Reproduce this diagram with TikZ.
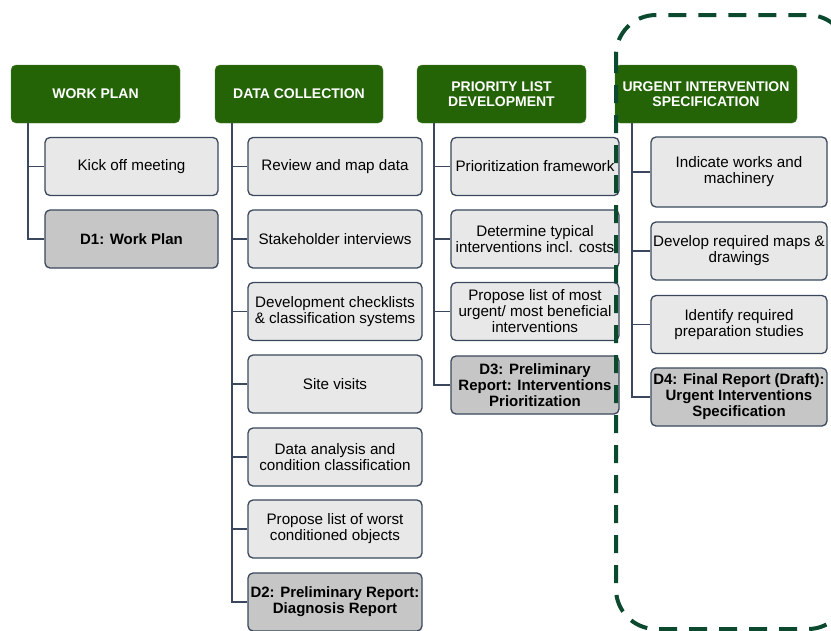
\documentclass[tikz,border=0pt]{standalone}
\usepackage{fontspec}
\setmainfont{Liberation Sans}
\usetikzlibrary{arrows}
\definecolor{phasegreen}{RGB}{36,100,6}
\definecolor{slate}{RGB}{58,71,92}
\definecolor{taskgray}{RGB}{232,232,232}
\definecolor{delgray}{RGB}{198,198,198}
\definecolor{framegreen}{RGB}{12,74,48}
\tikzstyle{link} = [draw=slate, line width=1.8pt]

\begin{document}
\begin{tikzpicture}[x=1pt, y=-1pt,
   phase/.style={rectangle, rounded corners=5pt, fill=phasegreen, draw=phasegreen!80!white,
      text=white, align=center, font=\fontsize{14}{15}\selectfont\bfseries, minimum height=58pt, inner sep=1pt},
   task/.style={rectangle, rounded corners=5pt, fill=taskgray, draw=slate, line width=1.3pt,
      align=center, font=\fontsize{15.2}{16}\selectfont, minimum height=58pt, inner sep=1pt},
   deliverable/.style={task, fill=delgray, font=\fontsize{15}{16}\selectfont\bfseries}]
\useasboundingbox (0,0) rectangle (831,630);

% phase headers
\node[phase, minimum width=169pt] (wp) at (95.5, 94) {WORK PLAN};
\node[phase, minimum width=168pt] (dc) at (299, 94) {DATA COLLECTION};
\node[phase, minimum width=169pt] (pl) at (501.5, 94) {PRIORITY LIST\\DEVELOPMENT};
\node[phase, minimum width=182pt] (ui) at (706, 94) {URGENT INTERVENTION\\SPECIFICATION};

% work plan
\node[task, minimum width=173pt] (kick) at (131.5, 166.5) {Kick off meeting};
\node[deliverable, minimum width=173pt] (d1) at (131.5, 239) {D1: Work Plan};

% data collection
\node[task, minimum width=174pt] (review) at (335, 166.5) {Review and map data};
\node[task, minimum width=174pt] (interv) at (335, 239) {Stakeholder interviews};
\node[task, minimum width=174pt] (checkl) at (335, 311.5) {Development checklists\\\& classification systems};
\node[task, minimum width=174pt] (site) at (335, 384) {Site visits};
\node[task, minimum width=174pt] (anal) at (335, 457) {Data analysis and\\condition classification};
\node[task, minimum width=174pt] (worst) at (335, 529) {Propose list of worst\\conditioned objects};
\node[deliverable, minimum width=174pt] (d2) at (335, 602) {D2: Preliminary Report:\\Diagnosis Report};

% priority list
\node[task, minimum width=168pt] (frame) at (535, 166.5) {Prioritization framework};
\node[task, minimum width=168pt] (typical) at (535, 239) {Determine typical\\interventions incl. costs};
\node[task, minimum width=168pt] (urgent) at (535, 311.5) {Propose list of most\\urgent/ most beneficial\\interventions};
\node[deliverable, minimum width=168pt] (d3) at (535, 385) {D3: Preliminary\\Report: Interventions\\Prioritization};

% urgent interventions
\node[task, minimum width=176pt, minimum height=70pt] (works) at (739, 172) {Indicate works and\\machinery};
\node[task, minimum width=176pt] (maps) at (739, 251) {Develop required maps \&\\drawings};
\node[task, minimum width=176pt] (studies) at (739, 324.5) {Identify required\\preparation studies};
\node[deliverable, minimum width=176pt] (d4) at (739, 397) {D4: Final Report (Draft):\\Urgent Interventions\\Specification};

% tree connectors
\foreach \p/\c in {wp/kick, wp/d1,
    dc/review, dc/interv, dc/checkl, dc/site, dc/anal, dc/worst, dc/d2,
    pl/frame, pl/typical, pl/urgent, pl/d3,
    ui/works, ui/maps, ui/studies, ui/d4}
  \draw[link] ([xshift=17.5pt]\p.south west) |- (\c.west);

% highlighted phase
\draw[framegreen, line width=4pt, dash pattern=on 18pt off 12pt, rounded corners=40pt]
  (616, 15) rectangle (848, 629);
\end{tikzpicture}
\end{document}
